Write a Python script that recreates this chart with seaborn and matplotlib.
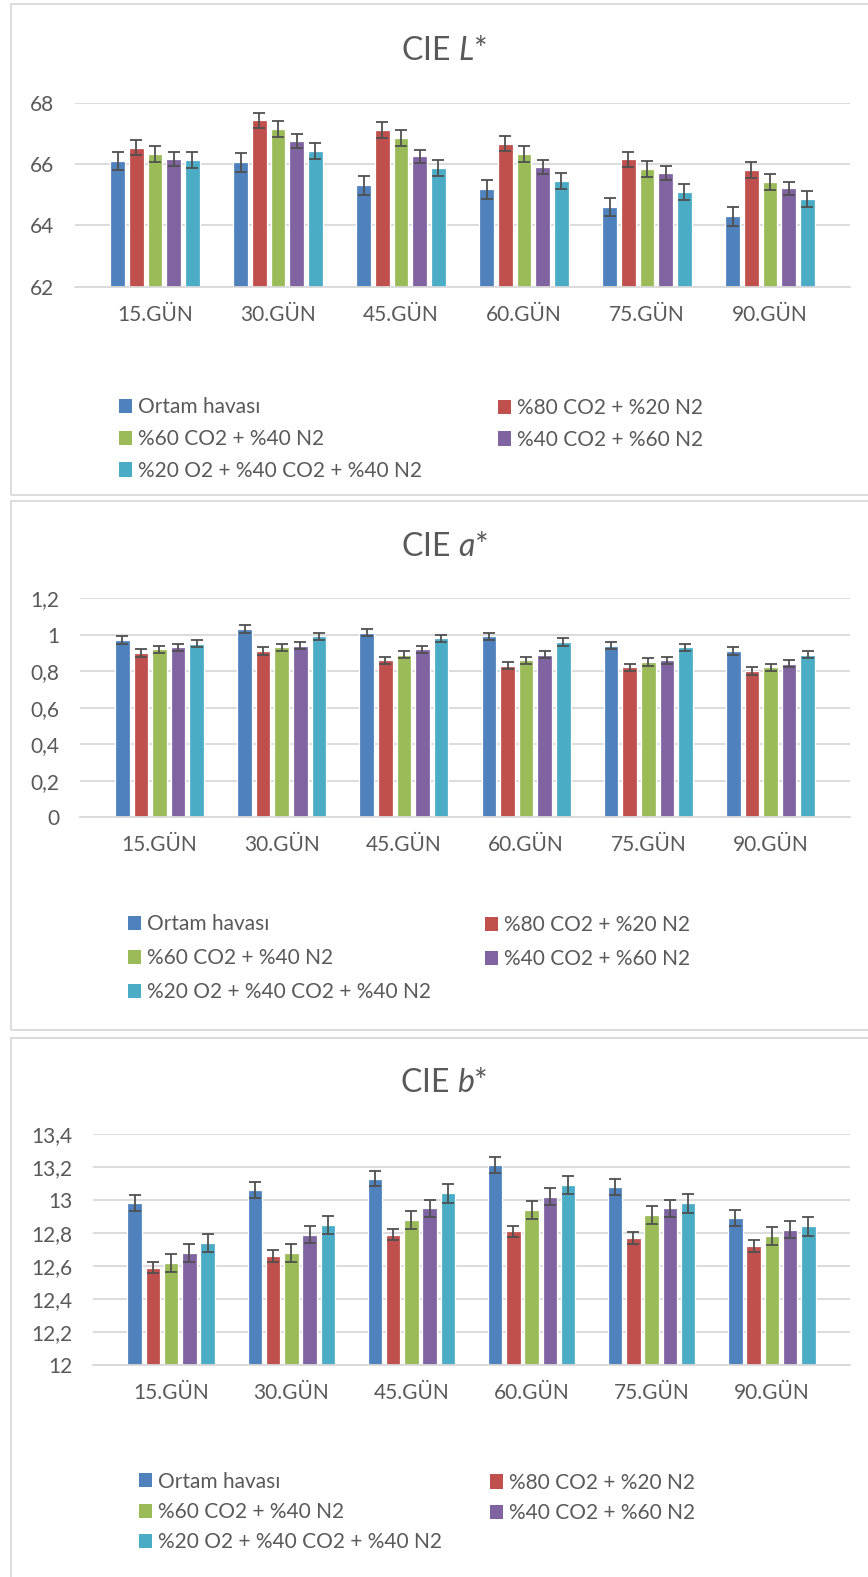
"""
CIE L*, a*, b* renk değerleri - ambalaj atmosferine göre
"""

import pandas as pd
import numpy as np
import matplotlib
matplotlib.use('Agg')

import matplotlib.pyplot as plt
import matplotlib.ticker as mticker
from matplotlib.patches import Rectangle
import seaborn as sns

sns.set_style("white")
plt.rcParams['font.family'] = ['Lato', 'DejaVu Sans']
plt.rcParams['mathtext.fontset'] = 'custom'
plt.rcParams['mathtext.rm'] = 'Lato'
plt.rcParams['mathtext.it'] = 'Lato:italic'

# ── veri ────────────────────────────────────────────────
days = ['15.GÜN', '30.GÜN', '45.GÜN', '60.GÜN', '75.GÜN', '90.GÜN']
groups = ['Ortam havası', '%80 CO2 + %20 N2', '%60 CO2 + %40 N2',
          '%40 CO2 + %60 N2', '%20 O2 + %40 CO2 + %40 N2']
colors = ['#4F81BD', '#C0504D', '#9BBB59', '#8064A2', '#4BACC6']

L_ortam = [66.09, 66.05, 65.30, 65.17, 64.59, 64.29]
L_co2_80 = [66.53, 67.42, 67.11, 66.66, 66.15, 65.80]
L_co2_60 = [66.34, 67.14, 66.84, 66.32, 65.84, 65.42]
L_co2_40 = [66.16, 66.75, 66.25, 65.91, 65.71, 65.21]
L_o2_20 = [66.13, 66.41, 65.87, 65.45, 65.10, 64.85]
L_err = [0.30, 0.25, 0.26, 0.22, 0.26]

a_ortam = [0.97, 1.03, 1.01, 0.99, 0.94, 0.91]
a_co2_80 = [0.90, 0.91, 0.86, 0.83, 0.82, 0.80]
a_co2_60 = [0.92, 0.93, 0.89, 0.86, 0.85, 0.82]
a_co2_40 = [0.93, 0.94, 0.92, 0.89, 0.86, 0.84]
a_o2_20 = [0.95, 0.99, 0.98, 0.96, 0.93, 0.89]
a_err = [0.02, 0.02, 0.02, 0.02, 0.02]

b_ortam = [12.98, 13.06, 13.13, 13.21, 13.08, 12.89]
b_co2_80 = [12.59, 12.66, 12.79, 12.81, 12.77, 12.72]
b_co2_60 = [12.62, 12.68, 12.88, 12.94, 12.91, 12.78]
b_co2_40 = [12.68, 12.79, 12.95, 13.02, 12.95, 12.82]
b_o2_20 = [12.74, 12.85, 13.04, 13.09, 12.98, 12.84]
b_err = [0.048, 0.035, 0.055, 0.053, 0.056]

TEXT = '#595959'
GRID = '#D9D9D9'
FS = 15
W, H = 868, 1577


def long_df(series):
    rows = []
    for g, vals in zip(groups, series):
        for d, v in zip(days, vals):
            rows.append({'gun': d, 'grup': g, 'deger': v})
    return pd.DataFrame(rows)


def comma_fmt(x, _):
    return f'{round(x, 2):g}'.replace('.', ',')


def add_axes_px(left, right, top, bottom):
    return fig.add_axes([left / W, 1 - bottom / H, (right - left) / W, (bottom - top) / H])


def draw_panel(ax, series, errs, ylo, yhi, step):
    df = long_df(series)
    sns.barplot(data=df, x='gun', y='deger', hue='grup', palette=colors,
                order=days, hue_order=groups, errorbar=None, width=0.76, gap=0.21,
                edgecolor='white', linewidth=0.9, saturation=1, ax=ax)
    leg = ax.get_legend()
    handles = leg.legend_handles
    labels = [t.get_text() for t in leg.texts]
    leg.remove()

    for cont, e in zip(ax.containers, errs):
        xs = [b.get_x() + b.get_width() / 2 for b in cont]
        ys = [b.get_height() for b in cont]
        ax.errorbar(xs, ys, yerr=e, fmt='none', ecolor='#505050',
                    elinewidth=1.3, capsize=4.5, capthick=1.3, zorder=5)

    ax.set_ylim(ylo, yhi)
    ax.yaxis.set_major_locator(mticker.MultipleLocator(step))
    ax.yaxis.set_major_formatter(mticker.FuncFormatter(comma_fmt))
    ax.yaxis.grid(True, color=GRID, linewidth=1.3)
    ax.set_axisbelow(True)
    for s in ['left', 'right', 'top']:
        ax.spines[s].set_visible(False)
    ax.spines['bottom'].set_color(GRID)
    ax.spines['bottom'].set_linewidth(1.3)
    ax.tick_params(axis='y', length=0, pad=15, labelsize=FS, labelcolor=TEXT)
    ax.tick_params(axis='x', length=0, pad=13, labelsize=FS, labelcolor=TEXT)
    ax.set_xlabel('')
    ax.set_ylabel('')
    return handles, labels


def panel_legend(handles, labels, x1, y1, x2, y2, spacing):
    kw = dict(loc='center left', frameon=False, fontsize=FS, labelcolor=TEXT,
              handlelength=0.63, handleheight=0.68, handletextpad=0.3,
              borderpad=0, borderaxespad=0, labelspacing=spacing)
    l1 = fig.legend([handles[i] for i in (0, 2, 4)], [labels[i] for i in (0, 2, 4)],
                    bbox_to_anchor=(x1 / W, 1 - y1 / H), **kw)
    l2 = fig.legend([handles[i] for i in (1, 3)], [labels[i] for i in (1, 3)],
                    bbox_to_anchor=(x2 / W, 1 - y2 / H), **kw)
    for l in (l1, l2):
        for h in l.legend_handles:
            h.set_edgecolor('none')


fig = plt.figure(figsize=(W / 100, H / 100), dpi=100)

# çerçeveler
for top, bottom in [(4, 495), (501, 1030), (1038, 1600)]:
    fig.add_artist(Rectangle((11 / W, 1 - bottom / H), (W + 20) / W, (bottom - top) / H,
                             transform=fig.transFigure, fill=False,
                             edgecolor=GRID, linewidth=1.3))

# ── 1. L* ───────────────────────────────────────────────
ax1 = add_axes_px(75, 850, 102.7, 286.7)
h, lab = draw_panel(ax1, [L_ortam, L_co2_80, L_co2_60, L_co2_40, L_o2_20], L_err, 62, 68, 2)
fig.text(444 / W, 1 - 60 / H, 'CIE $L$*', ha='center', va='baseline', fontsize=23, color=TEXT)
panel_legend(h, lab, 119, 439, 498, 424, 0.57)

# ── 2. a* ───────────────────────────────────────────────
ax2 = add_axes_px(80, 850, 598, 817.4)
h, lab = draw_panel(ax2, [a_ortam, a_co2_80, a_co2_60, a_co2_40, a_o2_20], a_err, 0, 1.2, 0.2)
fig.text(444 / W, 1 - 555.5 / H, 'CIE $a$*', ha='center', va='baseline', fontsize=23, color=TEXT)
panel_legend(h, lab, 128, 958, 485, 942, 0.67)

# ── 3. b* ───────────────────────────────────────────────
ax3 = add_axes_px(93, 850, 1134, 1365)
h, lab = draw_panel(ax3, [b_ortam, b_co2_80, b_co2_60, b_co2_40, b_o2_20], b_err, 12, 13.4, 0.2)
fig.text(444 / W, 1 - 1092 / H, 'CIE $b$*', ha='center', va='baseline', fontsize=23, color=TEXT)
panel_legend(h, lab, 139, 1512, 490, 1498, 0.5)

fig.savefig('out.png', dpi=100)
plt.close()
